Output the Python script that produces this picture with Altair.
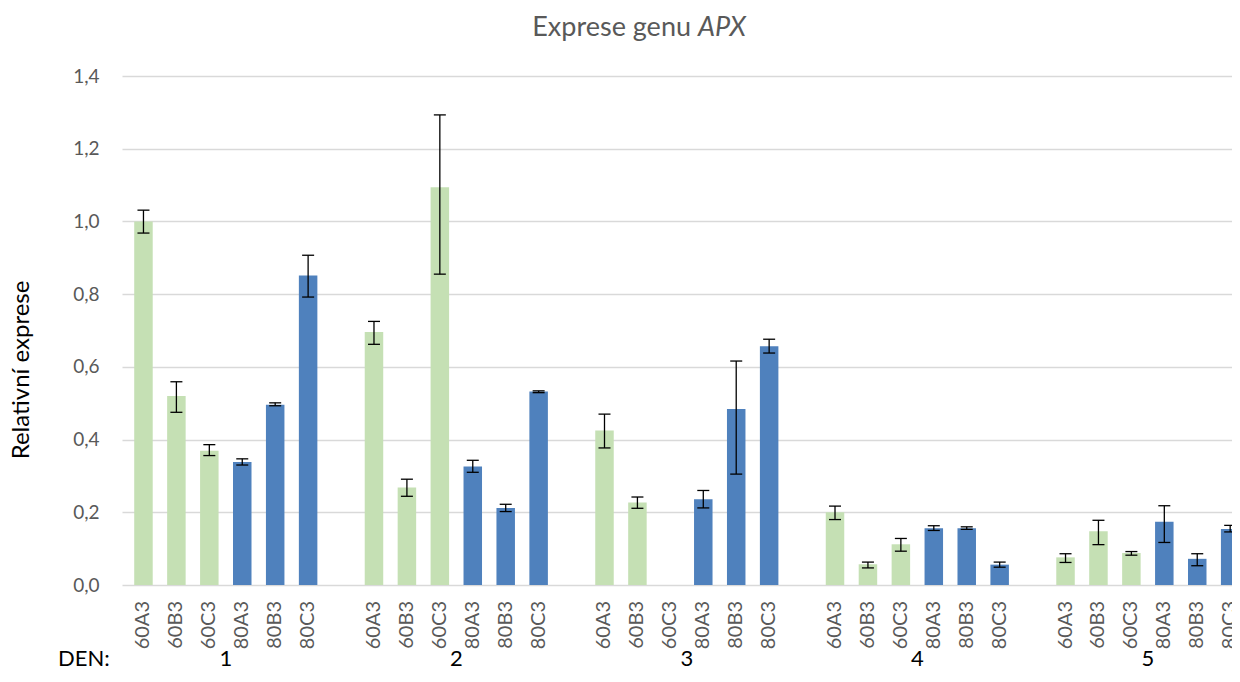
import altair as alt
import pandas as pd

# ---------------- data ----------------
days = ["1", "2", "3", "4", "5"]
categories = ["60A3", "60B3", "60C3", "80A3", "80B3", "80C3"]
series_of_cat = ["60", "60", "60", "80", "80", "80"]

day1_vals = [1.000, 0.520, 0.369, 0.338, 0.496, 0.851]
day2_vals = [0.696, 0.268, 1.094, 0.326, 0.212, 0.532]
day3_vals = [0.425, 0.227, None, 0.236, 0.484, 0.657]
day4_vals = [0.200, 0.057, 0.112, 0.156, 0.156, 0.056]
day5_vals = [0.076, 0.148, 0.088, 0.174, 0.072, 0.154]

day1_hi = [1.031, 0.559, 0.386, 0.347, 0.501, 0.907]
day2_hi = [0.725, 0.291, 1.293, 0.343, 0.222, 0.534]
day3_hi = [0.470, 0.242, None, 0.260, 0.616, 0.676]
day4_hi = [0.217, 0.063, 0.128, 0.163, 0.160, 0.063]
day5_hi = [0.086, 0.178, 0.092, 0.218, 0.086, 0.164]

day1_lo = [0.968, 0.475, 0.356, 0.330, 0.493, 0.792]
day2_lo = [0.662, 0.244, 0.855, 0.310, 0.202, 0.529]
day3_lo = [0.377, 0.211, None, 0.212, 0.305, 0.638]
day4_lo = [0.180, 0.047, 0.093, 0.150, 0.153, 0.049]
day5_lo = [0.062, 0.111, 0.082, 0.117, 0.053, 0.146]

y_ticks = [0.0, 0.2, 0.4, 0.6, 0.8, 1.0, 1.2, 1.4]

vals = [day1_vals, day2_vals, day3_vals, day4_vals, day5_vals]
his = [day1_hi, day2_hi, day3_hi, day4_hi, day5_hi]
los = [day1_lo, day2_lo, day3_lo, day4_lo, day5_lo]

SLOTS_PER_DAY = len(categories) + 1  # one empty slot between days

rows, label_rows = [], []
for d, day in enumerate(days):
    for c, cat in enumerate(categories):
        slot = d * SLOTS_PER_DAY + c
        label_rows.append({"slot": slot, "cat": cat})
        v = vals[d][c]
        if v is None:
            continue
        rows.append({"day": day, "cat": cat, "slot": slot, "series": series_of_cat[c],
                     "value": v, "hi": his[d][c], "lo": los[d][c]})
df = pd.DataFrame(rows)
labels_df = pd.DataFrame(label_rows)
days_df = pd.DataFrame({"day": days,
                        "slot": [d * SLOTS_PER_DAY + (len(categories) - 1) / 2 for d in range(len(days))]})

# ---------------- layout ----------------
W, H = 1110, 509
SLOT_PX = 33.23
FONT = "Lato"

xscale = alt.Scale(domain=[-0.5, -0.5 + W / SLOT_PX], nice=False, zero=False)
yscale = alt.Scale(domain=[0, 1.4], nice=False)
y_axis = alt.Axis(values=y_ticks, labelExpr="replace(format(datum.value, '.1f'), '.', ',')",
                  grid=True, gridColor="#D9D9D9", gridWidth=1.5, domain=False, ticks=False,
                  labelFont=FONT, labelFontSize=19, labelColor="#595959", labelPadding=23,
                  title=None)
X = alt.X("slot:Q", scale=xscale, axis=None)

bars = alt.Chart(df).mark_bar(size=18.5, clip=True).encode(
    x=X,
    y=alt.Y("value:Q", scale=yscale, axis=y_axis),
    color=alt.Color("series:N", scale=alt.Scale(domain=["60", "80"], range=["#C5E0B4", "#4F81BD"]),
                    legend=None),
)

err = alt.Chart(df).mark_rule(color="black", strokeWidth=1.3).encode(
    x=X, y=alt.Y("lo:Q", scale=yscale, axis=y_axis), y2="hi:Q")

cap_hi = alt.Chart(df).mark_rule(color="black", strokeWidth=1.3, xOffset=-6, x2Offset=6).encode(
    x=X, x2="slot:Q", y=alt.Y("hi:Q", scale=yscale, axis=y_axis))
cap_lo = alt.Chart(df).mark_rule(color="black", strokeWidth=1.3, xOffset=-6, x2Offset=6).encode(
    x=X, x2="slot:Q", y=alt.Y("lo:Q", scale=yscale, axis=y_axis))

cat_text = alt.Chart(labels_df).mark_text(
    angle=270, align="right", baseline="middle", font=FONT, fontSize=20, color="#595959"
).encode(x=X, y=alt.value(H + 16), text="cat:N")

day_text = alt.Chart(days_df).mark_text(
    align="center", baseline="alphabetic", font=FONT, fontSize=22, color="black"
).encode(x=X, y=alt.value(H + 81), text="day:N")

one = pd.DataFrame({"t": ["DEN:"]})
den_text = alt.Chart(one).mark_text(
    align="left", baseline="alphabetic", font=FONT, fontSize=22, color="black"
).encode(x=alt.value(-64), y=alt.value(H + 81), text=alt.value("DEN:"))

title_a = alt.Chart(one).mark_text(
    align="right", baseline="alphabetic", font=FONT, fontSize=27, color="#595959"
).encode(x=alt.value(569), y=alt.value(-40), text=alt.value("Exprese genu"))
title_b = alt.Chart(one).mark_text(
    align="left", baseline="alphabetic", font=FONT, fontSize=27, color="#595959", fontStyle="italic"
).encode(x=alt.value(576), y=alt.value(-40), text=alt.value("APX"))

ytitle = alt.Chart(one).mark_text(
    angle=270, align="center", baseline="middle", font=FONT, fontSize=24, color="black"
).encode(x=alt.value(-100), y=alt.value(294), text=alt.value("Relativní exprese"))

chart = alt.layer(
    bars, err, cap_hi, cap_lo, cat_text, day_text, den_text, title_a, title_b, ytitle
).properties(
    width=W, height=H,
    autosize=alt.AutoSizeParams(type="none"),
    padding={"left": 114, "top": 68, "right": 0, "bottom": 88},
    background="white",
).configure_view(stroke=None)

chart.save("out.html", embed_options={"renderer": "svg", "actions": False})
